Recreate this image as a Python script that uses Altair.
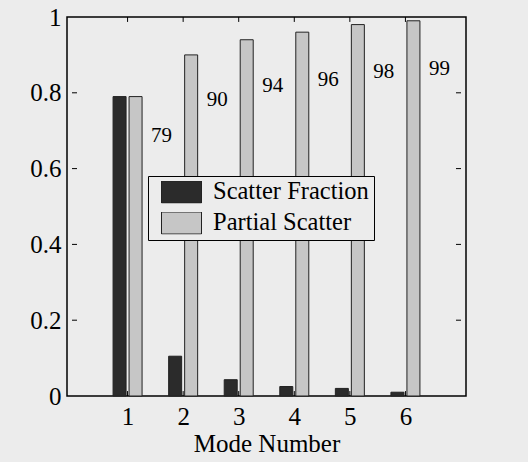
import altair as alt
import pandas as pd

modes = [1, 2, 3, 4, 5, 6]
scatter_fraction = [0.79, 0.105, 0.043, 0.025, 0.02, 0.01]
partial_scatter = [0.79, 0.90, 0.94, 0.96, 0.98, 0.99]
label_text = ["79", "90", "94", "96", "98", "99"]
label_y = [0.687, 0.78, 0.817, 0.835, 0.854, 0.862]
series_names = ["Scatter Fraction", "Partial Scatter"]
x_ticks = [1, 2, 3, 4, 5, 6]
y_ticks = [0, 0.2, 0.4, 0.6, 0.8, 1]
y_inner_ticks = [0.2, 0.4, 0.6, 0.8]

FONT = "Liberation Serif"
BG = "#ececec"

df_sf = pd.DataFrame({"mode": modes, "value": scatter_fraction, "series": series_names[0]})
df_ps = pd.DataFrame({"mode": modes, "value": partial_scatter, "series": series_names[1]})
df_lab = pd.DataFrame({"mode": modes, "value": label_y, "text": label_text})
df_xt = pd.DataFrame({"mode": x_ticks})
df_yt = pd.DataFrame({"value": y_inner_ticks})

xscale = alt.Scale(domain=[0, 7], nice=False, zero=False)
yscale = alt.Scale(domain=[0, 1], nice=False)

x_axis = alt.Axis(values=x_ticks, grid=False, domain=False, ticks=False,
                  labelFont=FONT, labelFontSize=25, labelColor="black", labelPadding=8,
                  title="Mode Number", titleFont=FONT, titleFontSize=25,
                  titleFontWeight="normal", titleColor="black", titlePadding=2)
y_axis = alt.Axis(values=y_ticks, format="~g", grid=False, domain=False, ticks=False,
                  labelFont=FONT, labelFontSize=25, labelColor="black", labelPadding=6,
                  title=None)

legend = alt.Legend(orient="none", legendX=81, legendY=159, title=None,
                    fillColor=BG, strokeColor="black", padding=5,
                    symbolType="M-1,-0.55H1V0.55H-1Z", symbolSize=1600, symbolOffset=8,
                    symbolStrokeColor="#222", symbolStrokeWidth=1, symbolOpacity=1,
                    clipHeight=22, rowPadding=6,
                    labelFont=FONT, labelFontSize=24.5, labelColor="black",
                    labelOffset=11, labelLimit=300)

color = alt.Color("series:N",
                  scale=alt.Scale(domain=series_names, range=["#2b2b2b", "#c6c6c6"]),
                  legend=legend)

X = alt.X("mode:Q", scale=xscale, axis=x_axis)
Y = alt.Y("value:Q", scale=yscale, axis=y_axis)

bars_sf = alt.Chart(df_sf).mark_bar(size=13, xOffset=-8, stroke="#222", strokeWidth=1).encode(
    x=X, y=Y, color=color)
bars_ps = alt.Chart(df_ps).mark_bar(size=13, xOffset=8, stroke="#222", strokeWidth=1).encode(
    x=X, y=Y, color=color)

labels = alt.Chart(df_lab).mark_text(font=FONT, fontSize=21, color="black", dx=34).encode(
    x=X, y=Y, text="text:N")

tick_style = dict(color="black", strokeWidth=1)
ticks_bottom = alt.Chart(df_xt).mark_rule(**tick_style).encode(
    x=X, y=alt.Y(datum=0, scale=yscale, axis=y_axis), y2=alt.datum(0.013))
ticks_top = alt.Chart(df_xt).mark_rule(**tick_style).encode(
    x=X, y=alt.Y(datum=1, scale=yscale, axis=y_axis), y2=alt.datum(0.987))
ticks_left = alt.Chart(df_yt).mark_rule(**tick_style).encode(
    y=Y, x=alt.X(datum=0, scale=xscale, axis=x_axis), x2=alt.datum(0.09))
ticks_right = alt.Chart(df_yt).mark_rule(**tick_style).encode(
    y=Y, x=alt.X(datum=7, scale=xscale, axis=x_axis), x2=alt.datum(6.91))

chart = alt.layer(
    bars_sf, bars_ps, labels, ticks_bottom, ticks_top, ticks_left, ticks_right
).properties(
    width=399, height=379,
    autosize=alt.AutoSizeParams(type="none"),
    padding={"left": 67, "top": 17, "right": 62, "bottom": 66},
    background=BG,
).configure_view(
    fill=BG, stroke="black", strokeWidth=1.5
)

chart.save("out.html", embed_options={"renderer": "svg", "actions": False})
